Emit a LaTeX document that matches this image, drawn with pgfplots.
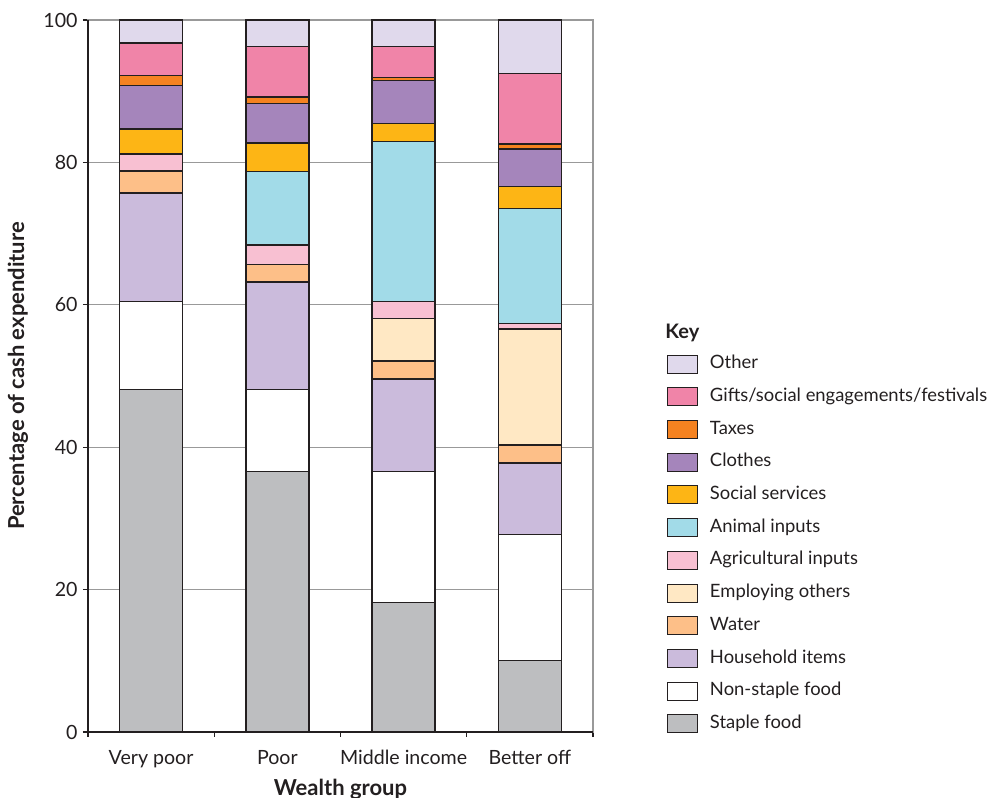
\documentclass[border=0pt]{standalone}
\usepackage{pgfplots}
\usepackage{pgfplotstable}
\pgfplotsset{compat=1.18}
\usepackage{fontspec}
\setmainfont{Lato}
\definecolor{cOther}{HTML}{E0D9EC}
\definecolor{cGifts}{HTML}{F084A8}
\definecolor{cTaxes}{HTML}{F58220}
\definecolor{cClothes}{HTML}{A585BB}
\definecolor{cSocial}{HTML}{FDB515}
\definecolor{cAnimal}{HTML}{A2DBE8}
\definecolor{cAgri}{HTML}{F8C0D2}
\definecolor{cEmploy}{HTML}{FFE8C4}
\definecolor{cWater}{HTML}{FDBF88}
\definecolor{cHouse}{HTML}{CBBBDC}
\definecolor{cNonstaple}{HTML}{FFFFFF}
\definecolor{cStaple}{HTML}{BDBEC0}
\definecolor{cEdge}{HTML}{231F20}
\pgfplotstableread{
x staple nonstaple household water employ agri animal social clothes taxes gifts other
0 48.1 12.4 15.2 3.1 0.0 2.4 0.0 3.5 6.1 1.4 4.55 3.25
1 36.6 11.5 15.1 2.5 0.0 2.7 10.3 4.0 5.6 0.9 7.1 3.7
2 18.2 18.4 13.0 2.5 6.0 2.4 22.4 2.6 6.0 0.4 4.4 3.7
3 10.0 17.7 10.1 2.5 16.3 0.8 16.1 3.1 5.3 0.7 9.9 7.5
}\data
\begin{document}
\begin{tikzpicture}
\useasboundingbox (-44pt,-33pt) rectangle (452.5pt,366pt);
\begin{axis}[
  scale only axis, width=252.5pt, height=356pt,
  ybar stacked, bar width=0.5,
  xmin=-0.5, xmax=3.5, ymin=0, ymax=100,
  xtick={0,1,2,3}, xticklabels={Very poor,Poor,Middle income,Better off},
  major x tick style={draw=none},
  minor xtick={-0.5,0.5,1.5,2.5,3.5},
  minor tick length=2.5pt, major tick length=2.5pt,
  tick align=outside,
  xtick pos=bottom, ytick pos=left,
  ytick={0,20,40,60,80,100},
  ymajorgrids, grid style={draw=gray!80, line width=0.6pt},
  axis line style={draw=gray!80, line width=0.6pt},
  tick style={draw=cEdge, line width=0.6pt},
  tick label style={font=\fontsize{9.8}{11}\selectfont, text=cEdge},
  /pgf/number format/assume math mode=true,
  xticklabel style={anchor=base, yshift=-14pt},
  yticklabel style={anchor=east, inner sep=0pt, xshift=-2.5pt},
  xlabel={\textbf{Wealth group}},
  xlabel style={at={(axis description cs:0.5,-0.0885)}, anchor=base, font=\fontsize{11}{13}\selectfont, text=cEdge},
  ylabel={\textbf{Percentage of cash expenditure}},
  ylabel style={at={(axis description cs:-0.1267,0.5)}, anchor=base, font=\fontsize{11}{13}\selectfont, text=cEdge},
  reverse legend,
  legend cell align=left,
  legend image code/.code={\draw[#1, line width=0.5pt] (0pt,-4.5pt) rectangle (15pt,4.5pt);},
  legend style={at={(axis description cs:1.1465,0.530)}, anchor=north west, draw=none, fill=none,
    inner sep=0pt, outer sep=0pt, row sep=6.85pt, column sep=6pt,
    nodes={inner sep=0pt, text height=6.8pt, text depth=2.2pt, anchor=west},
    font=\fontsize{9.2}{11}\selectfont, text=cEdge},
  clip=false,
]
\addplot[fill=cStaple, draw=cEdge, line width=0.7pt] table[x=x,y=staple]{\data};
\addlegendentry{Staple food}
\addplot[fill=cNonstaple, draw=cEdge, line width=0.7pt] table[x=x,y=nonstaple]{\data};
\addlegendentry{Non-staple food}
\addplot[fill=cHouse, draw=cEdge, line width=0.7pt] table[x=x,y=household]{\data};
\addlegendentry{Household items}
\addplot[fill=cWater, draw=cEdge, line width=0.7pt] table[x=x,y=water]{\data};
\addlegendentry{Water}
\addplot[fill=cEmploy, draw=cEdge, line width=0.7pt] table[x=x,y=employ]{\data};
\addlegendentry{Employing others}
\addplot[fill=cAgri, draw=cEdge, line width=0.7pt] table[x=x,y=agri]{\data};
\addlegendentry{Agricultural inputs}
\addplot[fill=cAnimal, draw=cEdge, line width=0.7pt] table[x=x,y=animal]{\data};
\addlegendentry{Animal inputs}
\addplot[fill=cSocial, draw=cEdge, line width=0.7pt] table[x=x,y=social]{\data};
\addlegendentry{Social services}
\addplot[fill=cClothes, draw=cEdge, line width=0.7pt] table[x=x,y=clothes]{\data};
\addlegendentry{Clothes}
\addplot[fill=cTaxes, draw=cEdge, line width=0.7pt] table[x=x,y=taxes]{\data};
\addlegendentry{Taxes}
\addplot[fill=cGifts, draw=cEdge, line width=0.7pt] table[x=x,y=gifts]{\data};
\addlegendentry{Gifts/social engagements/festivals}
\addplot[fill=cOther, draw=cEdge, line width=0.7pt] table[x=x,y=other]{\data};
\addlegendentry{Other}
\draw[cEdge, line width=1.3pt] (rel axis cs:0,1) -- (rel axis cs:0,0) -- (rel axis cs:1,0);
\node[anchor=base west, inner sep=0pt, font=\fontsize{10}{12}\selectfont\bfseries, text=cEdge] at (axis description cs:1.1426,0.553) {Key};
\end{axis}
\end{tikzpicture}
\end{document}
